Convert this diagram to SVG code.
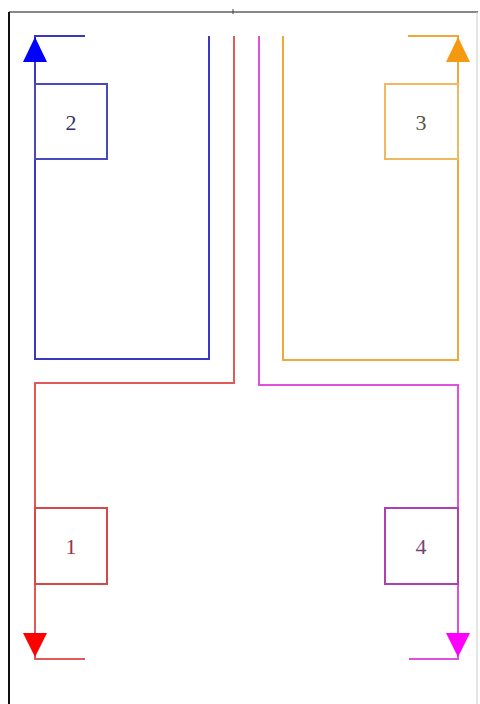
<svg xmlns="http://www.w3.org/2000/svg" width="480" height="704" viewBox="0 0 480 704">
<style>
.ln{fill:none;stroke-width:2}
.box{fill:#fff;stroke-width:2}
.lbl{font-family:"Liberation Serif",serif;font-size:22px;text-anchor:middle;dominant-baseline:central}
</style>
<rect width="480" height="704" fill="#fff"/>
<g id="frame">
<line x1="9" y1="12" x2="478" y2="12" stroke="#888" stroke-width="2"/>
<line x1="9" y1="12" x2="9" y2="704" stroke="#111" stroke-width="2"/>
<line x1="477" y1="12" x2="477" y2="704" stroke="#ccc" stroke-width="1"/>
<line x1="233" y1="9" x2="233" y2="14" stroke="#444" stroke-width="1"/>
</g>
<g id="connectors">
<polyline class="ln" stroke="#3838c0" points="85,36 35,36 35,359 209,359 209,36"/>
<polygon fill="#0000ff" points="35,37 23,62 47,62"/>
<polyline class="ln" stroke="#e05a5a" points="234,36 234,383 35,383 35,659 85,659"/>
<polygon fill="#ff0000" points="35,657 23,633 47,633"/>
<polyline class="ln" stroke="#e050e0" points="259,36 259,385 458,385 458,659 409,659"/>
<polygon fill="#ff00ff" points="458,657 446,633 470,633"/>
<polyline class="ln" stroke="#f0a838" points="283,36 283,360 458,360 458,36 408,36"/>
<polygon fill="#f59a10" points="458,37 446,62 470,62"/>
</g>
<g id="node2">
<rect class="box" stroke="#4848c0" x="35" y="84" width="72" height="75"/>
<text class="lbl" x="71" y="122" fill="#333366">2</text>
</g>
<g id="node3">
<rect class="box" stroke="#f0b860" x="385" y="84" width="73" height="75"/>
<text class="lbl" x="421" y="122" fill="#555544">3</text>
</g>
<g id="node1">
<rect class="box" stroke="#d84848" x="35" y="508" width="72" height="76"/>
<text class="lbl" x="71" y="546" fill="#993344">1</text>
</g>
<g id="node4">
<rect class="box" stroke="#b040b0" x="385" y="508" width="73" height="76"/>
<text class="lbl" x="421" y="546" fill="#774477">4</text>
</g>
</svg>
